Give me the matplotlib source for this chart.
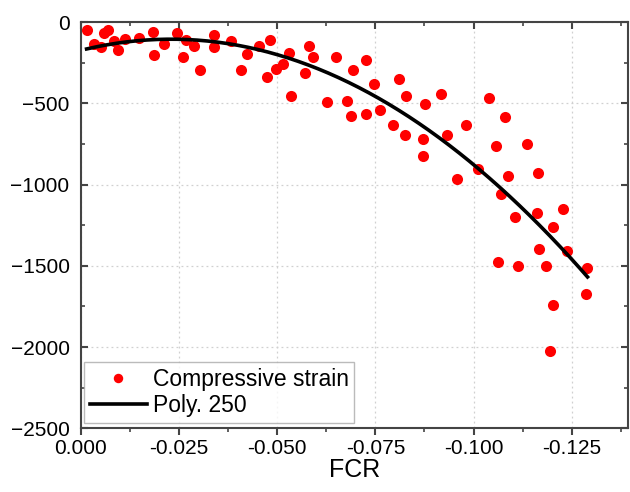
import numpy as np
import matplotlib
matplotlib.use("Agg")
import matplotlib.pyplot as plt
from matplotlib.ticker import MultipleLocator, FormatStrFormatter

plt.rcParams['font.family'] = ['Liberation Sans', 'DejaVu Sans']

# measured points (FCR, compressive strain)
fcr = [-0.00168, -0.00338, -0.00517, -0.00585, -0.00687, -0.00847, -0.00957, -0.01127,
       -0.01483, -0.0184, -0.01865, -0.0212, -0.02448, -0.02692, -0.02611, -0.02883,
       -0.03043, -0.034, -0.034, -0.03817, -0.04074, -0.04224, -0.04537, -0.04817,
       -0.0474, -0.04962, -0.05155, -0.05308, -0.05364, -0.05715, -0.05809, -0.05919,
       -0.06267, -0.06496, -0.06776, -0.06891, -0.06929, -0.07252, -0.07252, -0.07468,
       -0.07608, -0.07954, -0.08104, -0.08244, -0.08272, -0.0871, -0.08761, -0.09168,
       -0.08702, -0.09313, -0.098, -0.09567, -0.1011, -0.10394, -0.10797, -0.10562,
       -0.1088, -0.11356, -0.11636, -0.10707, -0.11051, -0.11618, -0.1228, -0.12025,
       -0.11662, -0.12374, -0.10626, -0.1112, -0.11832, -0.12896, -0.1287, -0.12025,
       -0.11954]
strain = [-48, -132, -153, -65, -50, -118, -168, -102,
          -94, -57, -200, -134, -65, -111, -211, -145,
          -292, -81, -153, -118, -292, -197, -143, -112,
          -334, -286, -254, -190, -451, -315, -143, -214,
          -490, -214, -482, -576, -292, -567, -231, -379,
          -543, -631, -348, -693, -451, -719, -504, -442,
          -826, -693, -631, -962, -906, -464, -583, -759,
          -945, -748, -929, -1057, -1196, -1175, -1150, -1261,
          -1395, -1410, -1478, -1498, -1498, -1512, -1676, -1740,
          -2023]

# quadratic trend
poly_coef = [-130300, -5994, -173]
fit_range = [-0.0015, -0.129]

xticks = [0.000, -0.025, -0.050, -0.075, -0.100, -0.125]
yticks = [0, -500, -1000, -1500, -2000, -2500]

fig = plt.figure(figsize=(6.3, 4.92), dpi=100)
ax = fig.add_axes([0.1281, 0.1295, 0.8687, 0.8252])

ax.plot(fcr, strain, 'o', color='#ff0000', markersize=8, markeredgewidth=0,
        label='Compressive strain', zorder=3)
xf = np.linspace(fit_range[0], fit_range[1], 200)
ax.plot(xf, np.polyval(poly_coef, xf), color='black', linewidth=2.6,
        label='Poly. 250', zorder=4)

ax.set_xlim(0, -0.1393)
ax.set_ylim(-2500, 0)
ax.set_xticks(xticks)
ax.set_yticks(yticks)
ax.xaxis.set_major_formatter(FormatStrFormatter('%.3f'))
ax.xaxis.set_minor_locator(MultipleLocator(0.0125))
ax.yaxis.set_minor_locator(MultipleLocator(250))

ax.grid(True, which='major', linestyle=(0, (1.5, 2.5)), color='#d0d0d0', linewidth=0.9)
ax.set_axisbelow(True)

for s in ax.spines.values():
    s.set_color('#444444')
    s.set_linewidth(1.5)

ax.tick_params(axis='both', which='major', labelsize=15, width=1.5, length=5, color='#444444')
ax.tick_params(axis='both', which='minor', width=1.2, length=3, color='#444444')
ax.tick_params(axis='x', which='both', direction='out', top=True, pad=3)
ax.tick_params(axis='y', which='both', direction='in', right=True, pad=8)
for t in ax.xaxis.get_major_ticks() + ax.xaxis.get_minor_ticks():
    t.tick2line.set_marker(3)  # top ticks point inward

ax.set_xlabel('FCR', fontsize=18, labelpad=0)

leg = ax.legend(loc='lower left', bbox_to_anchor=(0.006, 0.013), borderaxespad=0,
                fontsize=16.5, frameon=True, fancybox=False, edgecolor='#aaaaaa',
                handlelength=2.5, handletextpad=0.25, labelspacing=0.15,
                borderpad=0.25, markerscale=0.85)
leg.get_frame().set_linewidth(1.0)

fig.savefig("out.png", dpi=100)
